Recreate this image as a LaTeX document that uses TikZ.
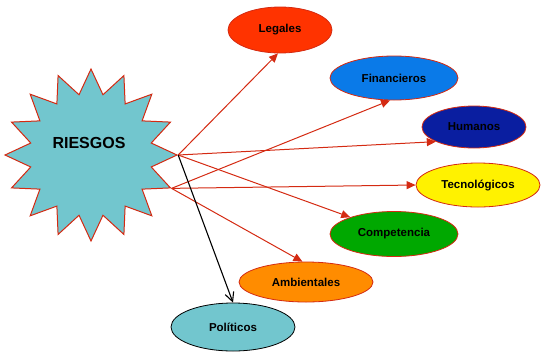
\documentclass[tikz,border=0pt]{standalone}
\usepackage{fontspec}
\setmainfont{Liberation Sans}
\usetikzlibrary{shapes.geometric,arrows.meta}
\definecolor{cian}{HTML}{72C6CE}
\definecolor{rojolinea}{HTML}{D42A12}
\definecolor{rojolegal}{HTML}{FF3300}
\definecolor{azulfin}{HTML}{0A7AE8}
\definecolor{azulhum}{HTML}{0A1EA0}
\definecolor{verdecomp}{HTML}{00A800}
\definecolor{naranja}{HTML}{FF8C00}

\begin{document}
\begin{tikzpicture}[x=1pt,y=-1pt,
    tipo/.style={ellipse,draw=rojolinea,line width=.8pt,inner sep=0pt,
        font=\bfseries\fontsize{11.5}{13}\selectfont},
    flecha/.style={draw=rojolinea,line width=1pt,-{Triangle[length=9pt,width=8pt]}}]
    \useasboundingbox (0,0) rectangle (541,354);
    %the star in the middle of everything
    \node[star,star points=16,star point ratio=1.4,minimum size=172pt,inner sep=0pt,
        draw=rojolinea,line width=1pt,fill=cian] (riesgos) at (91,155) {};
    \node[font=\bfseries\fontsize{16}{18}\selectfont] (titulo) at (89,143) {RIESGOS};
    %the kinds of risk
    \node[tipo,fill=rojolegal,minimum width=104pt,minimum height=46pt] (legales) at (280,30) {Legales};
    \node[tipo,fill=azulfin,minimum width=128pt,minimum height=44pt] (financieros) at (394,78) {Financieros};
    \node[tipo,fill=azulhum,minimum width=104pt,minimum height=42pt] (humanos) at (474,127) {Humanos};
    \node[tipo,fill=yellow,minimum width=124pt,minimum height=44pt] (tecnologicos) at (478,185) {Tecnológicos};
    \node[tipo,fill=verdecomp,minimum width=128pt,minimum height=45pt] (competencia) at (394,234) {Competencia};
    \node[tipo,fill=naranja,minimum width=134pt,minimum height=40pt] (ambientales) at (306,282) {Ambientales};
    \node[tipo,draw=black,fill=cian,minimum width=124pt,minimum height=48pt] (politicos) at (233,327) {Políticos};
    %arrows from the two spikes
    \draw[flecha] (riesgos.outer point 13) -- (legales.265);
    \draw[flecha] (riesgos.outer point 13) -- (humanos.201);
    \draw[flecha] (riesgos.outer point 13) -- (competencia.159);
    \draw[flecha] (riesgos.outer point 12) -- (financieros.260);
    \draw[flecha] (riesgos.outer point 12) -- (tecnologicos.west);
    \draw[flecha] (riesgos.outer point 12) -- (ambientales.100);
    \draw[black,line width=1.1pt,-{Straight Barb[length=9pt,width=9pt]}] (riesgos.outer point 13) -- (politicos.90);
\end{tikzpicture}
\end{document}
